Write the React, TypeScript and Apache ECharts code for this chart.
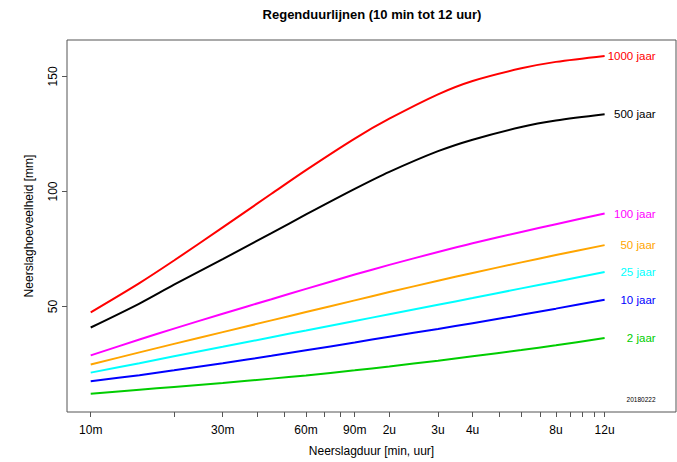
import React, { useEffect, useRef } from "react";
import * as echarts from "echarts";

const durations = [10, 15, 20, 30, 45, 60, 90, 120, 180, 240, 360, 480, 720];
const v1000 = [47.5, 60.2, 70, 84.4, 99, 109.3, 123, 131.6, 142.2, 148, 153.5, 156.3, 158.9];
const v500 = [40.9, 51.3, 59.5, 70.6, 81.9, 90, 101.1, 108.5, 117.5, 122.5, 128, 130.8, 133.5];
const v100 = [28.8, 35.7, 40.4, 46.9, 53.2, 57.7, 63.9, 68.1, 73.7, 77.5, 82.4, 85.8, 90.4];
const v50 = [24.8, 30.1, 33.8, 38.9, 44, 47.6, 52.7, 56.3, 61.2, 64.6, 69.2, 72.4, 76.7];
const v25 = [21.3, 25.4, 28.4, 32.5, 36.7, 39.6, 43.7, 46.7, 50.8, 53.7, 57.9, 60.8, 65];
const v10 = [17.6, 20.2, 22.3, 25.4, 28.6, 31, 34.4, 36.9, 40.3, 42.8, 46.4, 49.1, 53];
const v2 = [12.1, 13.9, 15.1, 16.8, 18.7, 20.1, 22.3, 24, 26.5, 28.4, 31.1, 33.2, 36.3];

const seriesNames = ["1000 jaar", "500 jaar", "100 jaar", "50 jaar", "25 jaar", "10 jaar", "2 jaar"];
const seriesValues = [v1000, v500, v100, v50, v25, v10, v2];
const seriesColors = ["#ff0000", "#000000", "#ff00ff", "#ffa500", "#00ffff", "#0000ff", "#00cd00"];

const tickMinutes = [10, 20, 30, 40, 50, 60, 70, 80, 90, 120, 180, 240, 300, 360, 420, 480, 540, 600, 660, 720];
const labelMinutes = [10, 30, 60, 90, 120, 180, 240, 480, 720];
const labelTexts = ["10m", "30m", "60m", "90m", "2u", "3u", "4u", "8u", "12u"];
const yTicks = [50, 100, 150];

const FONT = "'Liberation Sans', Arial, Helvetica, sans-serif";

export default function App() {
  const ref = useRef<HTMLDivElement>(null);
  useEffect(() => {
    if (!ref.current) return;
    const chart = echarts.init(ref.current, null, { renderer: "svg" });
    const axisColor = "#555";
    chart.setOption({
      animation: false,
      backgroundColor: "#ffffff",
      textStyle: { fontFamily: FONT },
      title: {
        text: "Regenduurlijnen (10 min tot 12 uur)",
        left: 372,
        textAlign: "center",
        top: 8,
        padding: 0,
        textStyle: { fontSize: 13, fontWeight: "bold", color: "#000", fontFamily: FONT },
      },
      grid: {
        left: 67,
        right: 1,
        top: 40,
        bottom: 48,
        show: true,
        borderColor: axisColor,
        borderWidth: 1,
        containLabel: false,
      },
      xAxis: {
        type: "value",
        min: 0.9143,
        max: 3.1153,
        name: "Neerslagduur [min, uur]",
        nameLocation: "middle",
        nameGap: 33,
        nameTextStyle: { fontSize: 12, color: "#000", fontFamily: FONT },
        axisLine: { show: false },
        splitLine: { show: false },
        axisTick: {
          show: true,
          length: 5,
          lineStyle: { color: axisColor },
          customValues: tickMinutes.map((m) => Math.log10(m)),
        },
        axisLabel: {
          margin: 12,
          fontSize: 12,
          color: "#000",
          fontFamily: FONT,
          customValues: labelMinutes.map((m) => Math.log10(m)),
          formatter: (val: number) => {
            const i = labelMinutes.findIndex((m) => Math.abs(Math.log10(m) - val) < 1e-6);
            return i >= 0 ? labelTexts[i] : "";
          },
        },
      },
      yAxis: {
        type: "value",
        min: 4.2,
        max: 165.8,
        name: "Neerslaghoeveelheid [mm]",
        nameLocation: "middle",
        nameGap: 32,
        nameRotate: 90,
        nameTextStyle: { fontSize: 12, color: "#000", fontFamily: FONT },
        axisLine: { show: false },
        splitLine: { show: false },
        axisTick: {
          show: true,
          length: 5,
          lineStyle: { color: axisColor },
          customValues: yTicks,
        },
        axisLabel: {
          rotate: 90,
          margin: 8,
          fontSize: 12,
          color: "#000",
          fontFamily: FONT,
          customValues: yTicks,
        },
      },
      graphic: [
        {
          type: "text",
          right: 21.5,
          top: 395.5,
          style: { text: "20180222", fontSize: 6.5, fill: "#000", fontFamily: FONT },
        },
      ],
      series: seriesNames.map((name, k) => ({
        name,
        type: "line",
        showSymbol: false,
        smooth: 0.3,
        lineStyle: { width: 2, color: seriesColors[k] },
        itemStyle: { color: seriesColors[k] },
        data: durations.map((d, i) => [Math.log10(d), seriesValues[k][i]]),
        endLabel: {
          show: true,
          formatter: "{a}",
          color: seriesColors[k],
          fontSize: 11.5,
          fontFamily: FONT,
          distance: 51,
          align: "right",
        },
      })),
    });
    return () => chart.dispose();
  }, []);
  return (
    <div
      ref={ref}
      style={{ position: "fixed", left: 0, top: 0, width: 677, height: 462 }}
    />
  );
}
